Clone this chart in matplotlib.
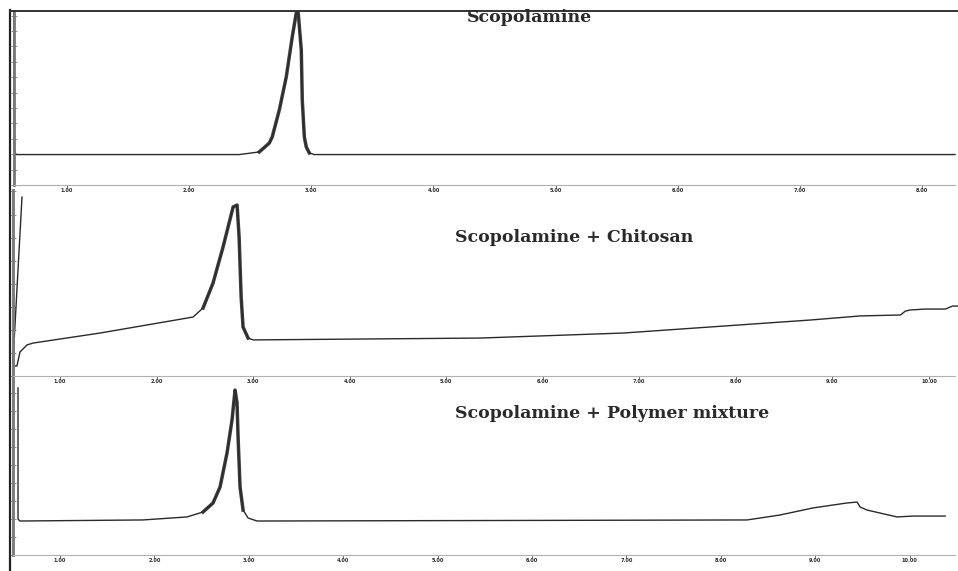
import matplotlib
matplotlib.use("Agg")
import matplotlib.pyplot as plt
from matplotlib.ticker import MultipleLocator, FixedLocator
from matplotlib.lines import Line2D

# ---------------- data (retention time in min, detector signal) ----------------
titles = ["Scopolamine", "Scopolamine + Chitosan", "Scopolamine + Polymer mixture"]

t1 = [0.566, 0.570, 0.582, 2.410, 2.574, 2.656, 2.680, 2.738, 2.795, 2.844, 2.877,
      2.893, 2.918, 2.926, 2.943, 2.959, 2.984, 3.025, 8.27]
s1 = [100.0, 20.1, 17.5, 17.5, 19.0, 24.1, 27.6, 43.1, 62.1, 85.1, 98.9,
      98.9, 77.6, 48.9, 27.6, 21.8, 18.4, 17.5, 17.5]

t2 = [0.606, 0.513, 0.523, 0.554, 0.585, 0.658, 0.720, 1.415, 2.378, 2.482, 2.585,
      2.689, 2.793, 2.834, 2.855, 2.876, 2.896, 2.948, 3.000, 5.352, 6.834, 8.772,
      9.290, 9.705, 9.756, 9.808, 9.964, 10.171, 10.244, 10.306]
s2 = [96.2, 7.5, 5.4, 5.4, 12.9, 16.7, 17.7, 23.1, 31.7, 36.6, 50.0,
      69.4, 90.9, 91.9, 74.7, 42.5, 26.3, 20.4, 19.4, 20.4, 23.1, 30.1,
      32.3, 32.8, 34.9, 35.5, 36.0, 36.0, 37.6, 37.6]

t3 = [0.555, 0.555, 0.576, 1.879, 2.345, 2.515, 2.621, 2.695, 2.769, 2.822, 2.854,
      2.875, 2.886, 2.907, 2.939, 2.992, 3.087, 8.278, 8.627, 8.977, 9.337, 9.443,
      9.475, 9.549, 9.686, 9.867, 10.036, 10.375]
s3 = [94.4, 20.3, 19.2, 19.8, 21.5, 24.3, 29.4, 38.4, 57.6, 76.3, 93.2,
      85.9, 66.7, 38.4, 25.4, 20.9, 19.2, 19.8, 22.6, 26.6, 29.4, 29.9,
      27.1, 25.4, 23.7, 21.5, 22.0, 22.0]

x_ticks1 = [1, 2, 3, 4, 5, 6, 7, 8]
x_ticks2 = [1, 2, 3, 4, 5, 6, 7, 8, 9, 10]
x_ticks3 = [1, 2, 3, 4, 5, 6, 7, 8, 9, 10]

# peak windows (drawn heavier, as in the scanned trace)
peak1 = (2.55, 2.99)
peak2 = (2.45, 2.95)
peak3 = (2.50, 2.95)

W, H = 958, 571
fig = plt.figure(figsize=(W / 100, H / 100), dpi=100)
fig.patch.set_facecolor("white")

def frac(left, top, right, bottom):
    return [left / W, 1 - bottom / H, (right - left) / W, (bottom - top) / H]

panels = [
    dict(rect=frac(14, 11, 955, 185), t=t1, s=s1, xlim=(0.566, 8.27), ticks=x_ticks1,
         ystep=8.85, peak=peak1, title=titles[0], tx=530, ty=17, ha="center"),
    dict(rect=frac(13, 190, 955, 376), t=t2, s=s2, xlim=(0.513, 10.27), ticks=x_ticks2,
         ystep=12.4, peak=peak2, title=titles[1], tx=455, ty=237, ha="left"),
    dict(rect=frac(13, 378, 955, 555), t=t3, s=s3, xlim=(0.502, 10.48), ticks=x_ticks3,
         ystep=10.2, peak=peak3, title=titles[2], tx=455, ty=413, ha="left"),
]

for p in panels:
    ax = fig.add_axes(p["rect"])
    ax.set_facecolor("none")
    ax.plot(p["t"], p["s"], color="#2a2a2a", lw=1.0, solid_joinstyle="round", clip_on=False)
    lo, hi = p["peak"]
    pt = [a for a in p["t"] if lo <= a <= hi]
    ps = [b for a, b in zip(p["t"], p["s"]) if lo <= a <= hi]
    ax.plot(pt, ps, color="#2a2a2a", lw=2.5, solid_joinstyle="round", alpha=0.9)
    ax.set_xlim(*p["xlim"])
    ax.set_ylim(0, 100)
    for sp in ["top", "right"]:
        ax.spines[sp].set_visible(False)
    ax.spines["bottom"].set_color("#b0b0b0")
    ax.spines["bottom"].set_linewidth(0.8)
    ax.spines["left"].set_color("#777777")
    ax.spines["left"].set_linewidth(2.0)
    ax.xaxis.set_major_locator(FixedLocator(p["ticks"]))
    ax.set_xticklabels([f"{v:.2f}" for v in p["ticks"]])
    ax.tick_params(axis="x", direction="out", length=2, width=0.6, color="#555555",
                   labelsize=3.6, labelcolor="#2a2a2a", pad=0.4)
    for lab in ax.get_xticklabels():
        lab.set_fontweight("bold")
    ax.yaxis.set_major_locator(MultipleLocator(p["ystep"]))
    ax.tick_params(axis="y", direction="inout", length=5, width=0.6, color="#888888",
                   labelleft=False)
    fig.text(p["tx"] / W, 1 - p["ty"] / H, p["title"], ha=p["ha"], va="center",
             fontsize=12.5, fontweight="bold", family="DejaVu Serif", color="#2a2a2a")

# scanned page frame
fig.add_artist(Line2D([9.5 / W, 9.5 / W], [0, 1 - 10 / H], color="#222222", lw=1.6,
                      transform=fig.transFigure))
fig.add_artist(Line2D([9.5 / W, 1], [1 - 11 / H, 1 - 11 / H], color="#333333", lw=1.4,
                      transform=fig.transFigure))

fig.savefig("out.png", dpi=100, facecolor="white")
